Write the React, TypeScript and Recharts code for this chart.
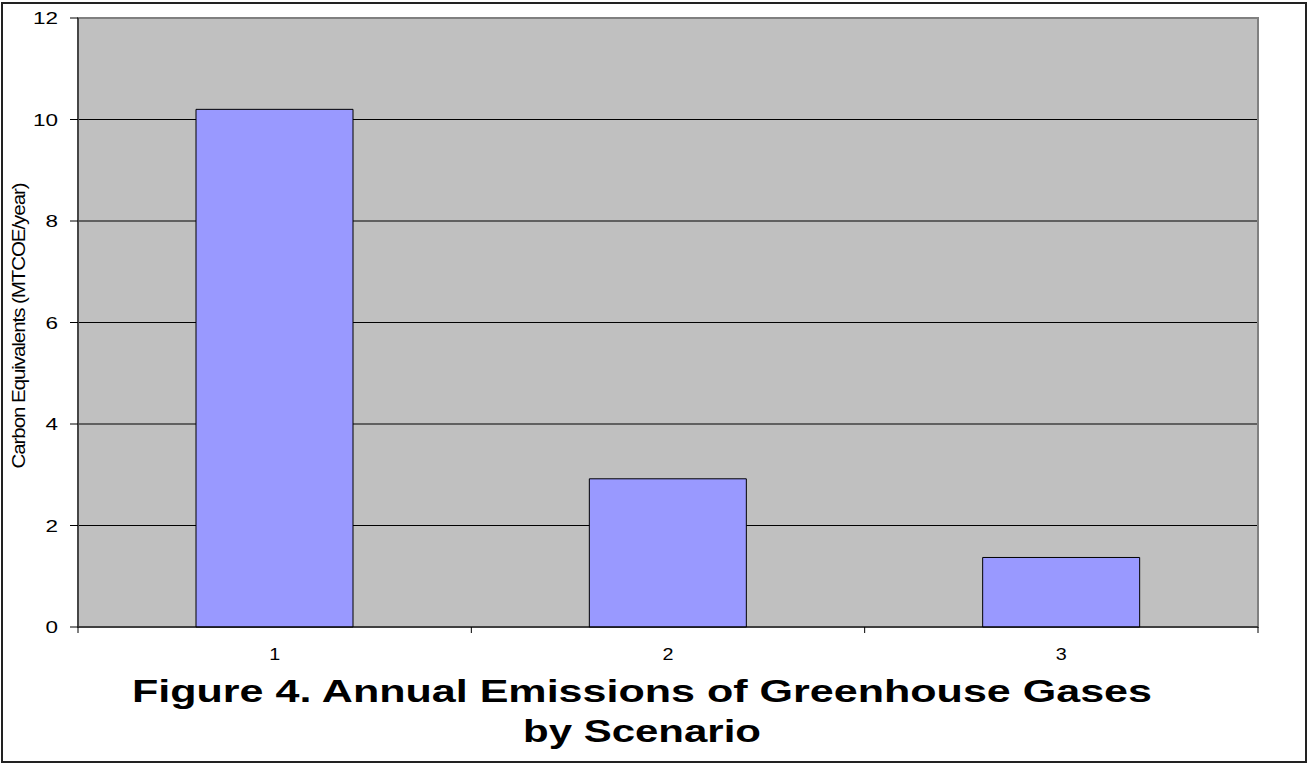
import React from 'react';
import { BarChart, Bar, XAxis, YAxis, CartesianGrid, ReferenceArea } from 'recharts';

const categories = ['1', '2', '3'];
const emissions = [10.2, 2.92, 1.37];
const yTicks = [0, 2, 4, 6, 8, 10, 12];
const gridValues = [2, 4, 6, 8, 10];
const titleLines = ['Figure 4. Annual Emissions of Greenhouse Gases', 'by Scenario'];
const yAxisLabel = 'Carbon Equivalents (MTCOE/year)';

const data = categories.map((c, i) => ({ name: c, pos: i + 0.5, value: emissions[i] }));
const xTicks = [0, 0.5, 1, 1.5, 2, 2.5, 3];

const FONT = '"Liberation Sans", Arial, sans-serif';

const XTick = (props: any) => {
  const { x, y, payload } = props;
  const v = payload.value;
  if (Number.isInteger(v)) {
    return <line x1={x} x2={x} y1={y - 6} y2={y} stroke="#000" strokeWidth={1} />;
  }
  const label = categories[Math.floor(v)];
  return (
    <text x={x} y={y + 27} textAnchor="middle" fontSize={17} fontFamily={FONT} fill="#000"
      textLength={11} lengthAdjust="spacingAndGlyphs">
      {label}
    </text>
  );
};

const YTick = (props: any) => {
  const { x, y, payload } = props;
  const s = String(payload.value);
  return (
    <text
      x={x}
      y={y + 6}
      textAnchor="end"
      fontSize={17}
      fontFamily={FONT}
      fill="#000"
      textLength={s.length * 12.5}
      lengthAdjust="spacingAndGlyphs"
    >
      {s}
    </text>
  );
};

export default function App() {
  return (
    <div style={{ position: 'absolute', left: 0, top: 0, width: 1307, height: 763, background: '#fff', overflow: 'hidden' }}>
      <div
        style={{
          position: 'absolute',
          left: 1,
          top: 2,
          width: 1302,
          height: 757,
          border: '2px solid #222',
          boxSizing: 'content-box',
        }}
      />
      <div style={{ position: 'absolute', left: 0, top: 0 }}>
        <BarChart width={1307} height={763} data={data} margin={{ top: 18, right: 49, bottom: 106, left: 0 }}>
          <CartesianGrid
            horizontal={true}
            vertical={false}
            fill="#C0C0C0"
            fillOpacity={1}
            stroke="#000"
            horizontalValues={gridValues}
          />
          <ReferenceArea x1={0} x2={3} y1={0} y2={12} fill="none" stroke="#808080" strokeWidth={2} />
          <XAxis
            type="number"
            dataKey="pos"
            domain={[0, 3]}
            ticks={xTicks}
            allowDecimals={true}
            interval={0}
            tickLine={false}
            tickSize={6}
            tickMargin={0}
            height={30}
            axisLine={{ stroke: '#000', strokeWidth: 1 }}
            tick={<XTick />}
          />
          <YAxis
            type="number"
            domain={[0, 12]}
            ticks={yTicks}
            interval={0}
            width={78}
            tickSize={8}
            tickMargin={12}
            axisLine={{ stroke: '#333', strokeWidth: 1.5 }}
            tickLine={{ stroke: '#000' }}
            tick={<YTick />}
          />
          <Bar dataKey="value" barSize={157} fill="#9999FF" stroke="#000" strokeWidth={1} isAnimationActive={false} />
        </BarChart>
      </div>
      <svg width={1307} height={763} style={{ position: 'absolute', left: 0, top: 0, pointerEvents: 'none' }}>
        <text
          transform="translate(18,326) rotate(-90)"
          textAnchor="middle"
          dominantBaseline="central"
          fontSize={19}
          fontFamily={FONT}
          fill="#000"
          textLength={285}
          lengthAdjust="spacingAndGlyphs"
          letterSpacing={-1}
        >
          {yAxisLabel}
        </text>
        <text
          x={642}
          y={702}
          textAnchor="middle"
          fontSize={31}
          fontWeight="bold"
          fontFamily={FONT}
          fill="#000"
          textLength={1020}
          lengthAdjust="spacingAndGlyphs"
        >
          {titleLines[0]}
        </text>
        <text
          x={642}
          y={742}
          textAnchor="middle"
          fontSize={31}
          fontWeight="bold"
          fontFamily={FONT}
          fill="#000"
          textLength={238}
          lengthAdjust="spacingAndGlyphs"
        >
          {titleLines[1]}
        </text>
      </svg>
    </div>
  );
}
